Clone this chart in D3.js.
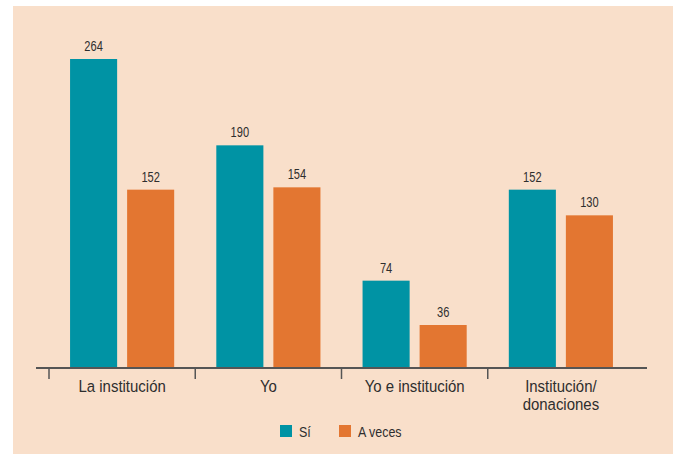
<!DOCTYPE html>
<html>
<head>
<meta charset="utf-8">
<script src="https://cdn.jsdelivr.net/npm/d3@7"></script>
<style>
  body { margin: 0; background: #fff; }
  svg text { font-family: "Liberation Sans", Arial, sans-serif; fill: #2e2e2e; }
</style>
</head>
<body>
<div id="chart"></div>
<script>
// data
var categories = ["La institución", "Yo", "Yo e institución", "Institución/donaciones"];
var seriesNames = ["Sí", "A veces"];
var si = [264, 190, 74, 152];
var aVeces = [152, 154, 36, 130];
var colors = ["#0093a4", "#e37631"];

var width = 673, height = 454;

var svg = d3.select("#chart")
  .append("svg")
    .attr("width", width)
    .attr("height", height);

// panel background
svg.append("rect")
  .attr("x", 13)
  .attr("y", 6)
  .attr("width", width - 13)
  .attr("height", height - 6)
  .attr("fill", "#f9dfca");

var x = d3.scaleBand()
  .domain(categories)
  .range([49, 634])
  .padding(0);

var x1 = d3.scaleBand()
  .domain(seriesNames)
  .range([x.bandwidth() * 0.144, x.bandwidth() * 0.856])
  .paddingInner(0.175);

var y = d3.scaleLinear()
  .domain([0, 264])
  .range([367, 59]);

// condensed look: squeeze text horizontally
function place(px, py, sx) {
  return "translate(" + px + "," + py + ") scale(" + sx + ",1)";
}

var rows = categories.map(function(c, i) {
  return { cat: c, values: [si[i], aVeces[i]] };
});

var groups = svg.selectAll(".group")
  .data(rows)
  .enter()
  .append("g")
    .attr("class", "group")
    .attr("transform", function(d) { return "translate(" + x(d.cat) + ",0)"; });

// bars
groups.selectAll("rect")
  .data(function(d) { return d.values.map(function(v, j) { return { name: seriesNames[j], value: v, j: j }; }); })
  .enter()
  .append("rect")
    .attr("x", function(d) { return x1(d.name); })
    .attr("y", function(d) { return y(d.value); })
    .attr("width", x1.bandwidth())
    .attr("height", function(d) { return y(0) - y(d.value) + 1; })
    .attr("fill", function(d) { return colors[d.j]; });

// value labels
groups.selectAll(".val")
  .data(function(d) { return d.values.map(function(v, j) { return { name: seriesNames[j], value: v }; }); })
  .enter()
  .append("text")
    .attr("class", "val")
    .attr("transform", function(d) { return place(x1(d.name) + x1.bandwidth() / 2, y(d.value) - 8, 0.74); })
    .attr("text-anchor", "middle")
    .style("font-size", "15px")
    .text(function(d) { return d.value; });

// axis line and ticks
svg.append("line")
  .attr("x1", 36).attr("x2", 647)
  .attr("y1", 368).attr("y2", 368)
  .attr("stroke", "#555")
  .attr("stroke-width", 2.2);

svg.selectAll(".tick")
  .data(categories)
  .enter()
  .append("line")
    .attr("class", "tick")
    .attr("x1", function(d) { return x(d); })
    .attr("x2", function(d) { return x(d); })
    .attr("y1", 368).attr("y2", 379)
    .attr("stroke", "#555")
    .attr("stroke-width", 1.5);

// category labels
var labels = svg.selectAll(".cat")
  .data(categories)
  .enter()
  .append("text")
    .attr("class", "cat")
    .attr("transform", function(d) { return place(x(d) + x.bandwidth() / 2, 392, 0.88); })
    .attr("text-anchor", "middle")
    .style("font-size", "17px");

labels.each(function(d) {
  var parts = d.split("/");
  var t = d3.select(this);
  if (parts.length > 1) {
    t.append("tspan").attr("x", 0).attr("dy", 0).text(parts[0] + "/");
    t.append("tspan").attr("x", 0).attr("dy", 18).text(parts[1]);
  } else {
    t.text(d);
  }
});

// legend
var legendX = [280, 339];
var legend = svg.selectAll(".legend")
  .data(seriesNames)
  .enter()
  .append("g")
    .attr("class", "legend")
    .attr("transform", function(d, i) { return "translate(" + legendX[i] + ",425)"; });

legend.append("rect")
  .attr("width", 12)
  .attr("height", 12)
  .attr("fill", function(d, i) { return colors[i]; });

legend.append("text")
  .attr("transform", place(19, 11.5, 0.83))
  .style("font-size", "15px")
  .text(function(d) { return d; });
</script>
</body>
</html>
